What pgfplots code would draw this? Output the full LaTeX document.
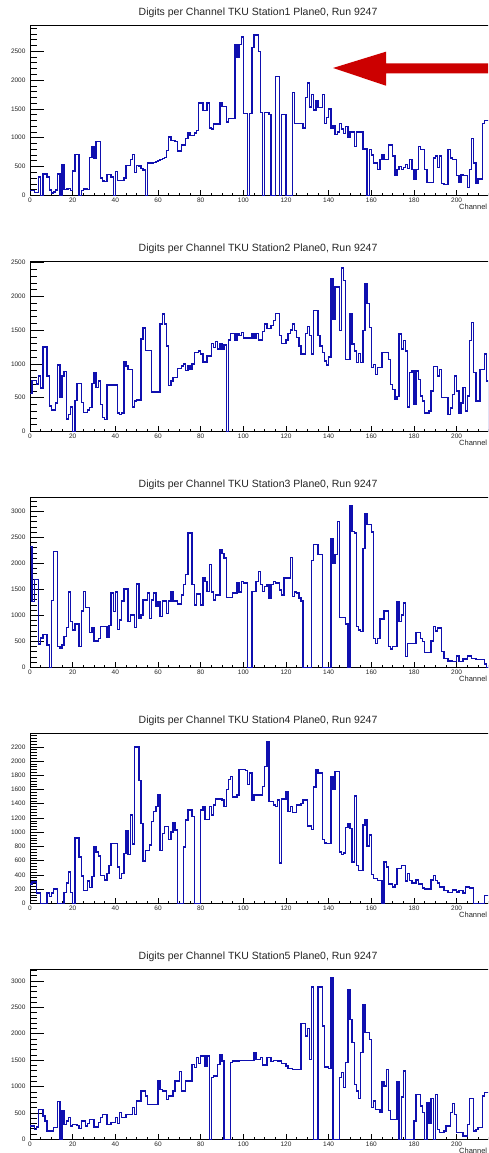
\documentclass[border=0pt]{standalone}
\usepackage{fontspec}
\setmainfont{Liberation Sans}
\usepackage{pgfplots}
\pgfplotsset{compat=1.18}
\definecolor{histblue}{RGB}{15,15,175}
\definecolor{arrowred}{RGB}{204,0,0}
\pgfplotsset{
  rootstyle/.style={
    scale only axis, width=460.8pt, height=170pt, anchor=south west,
    xmin=0, xmax=216, ymin=0,
    axis line style={line width=0.6pt, black},
    tick pos=left, tick align=inside,
    xtick={0,20,...,200}, minor xtick={0,5,...,215},
    every tick/.style={black, line width=0.5pt},
    y tick style={/pgfplots/major tick length=14pt,/pgfplots/minor tick length=7pt},
    x tick style={/pgfplots/major tick length=5pt,/pgfplots/minor tick length=2.5pt},
    scaled ticks=false,
    /pgf/number format/1000 sep={},
    /pgf/number format/assume math mode=true,
    ticklabel style={font=\fontsize{6.5}{7}\selectfont, text=black!85},
    yticklabel style={xshift=-1pt},
    xticklabel style={yshift=1pt},
    title style={at={(0.495,1)}, anchor=center, yshift=6.5pt, font=\fontsize{10.5}{12}\selectfont, text=black!85},
    xlabel={Channel},
    xlabel style={at={(1,0)}, anchor=east, inner sep=0pt, xshift=-3.5pt, yshift=-11.7pt, font=\fontsize{7.5}{8}\selectfont, text=black!85},
  },
  hist/.style={const plot mark left, draw=histblue, color=histblue, line width=1.4pt, no marks},
}
\begin{document}
\begin{tikzpicture}
\path[use as bounding box] (0,0) rectangle (488pt,1153pt);
\clip (0,0) rectangle (488pt,1153pt);
\fill[white] (0,0) rectangle (488pt,1153pt);

% Panel 1
\begin{axis}[rootstyle, at={(30pt,957.7pt)}, ymax=2950,
  ytick={0,500,...,2500}, minor ytick={0,100,...,2900},
  title={Digits per Channel TKU Station1 Plane0, Run 9247}]
\addplot[hist] coordinates {(0,80)(2,50)(4,320)(5,0)(6,370)(8,320)(9,90)(10,40)(11,60)(12,90)(13,370)(14,0)(15,530)(16,100)(17,110)(18,120)(19,80)(20,420)(21,710)(23,0)(24,80)(25,110)(27,100)(28,660)(29,850)(30,650)(31,930)(33,300)(34,250)(35,240)(36,360)(38,320)(39,0)(40,410)(41,260)(44,300)(45,520)(47,620)(48,710)(49,400)(50,520)(51,510)(52,470)(53,440)(54,0)(55,560)(58,570)(59,590)(60,600)(61,620)(62,640)(63,660)(64,780)(65,1010)(66,950)(68,930)(69,770)(71,870)(73,990)(74,1080)(75,1040)(77,1080)(78,1120)(79,1600)(81,1470)(83,1600)(84,1170)(85,1150)(86,1240)(89,1600)(90,1540)(92,1270)(93,1330)(96,2620)(97,2400)(98,2620)(99,2750)(100,1420)(102,0)(103,1420)(104,2560)(105,2780)(107,2500)(108,1440)(109,0)(110,1440)(112,1400)(113,0)(115,2060)(117,0)(118,1400)(120,0)(123,1780)(124,1250)(128,1170)(129,1700)(130,1950)(131,1530)(132,1750)(133,1480)(134,1640)(135,1520)(137,1750)(138,1250)(139,1350)(140,1500)(141,1160)(142,1200)(143,1050)(144,1100)(145,1250)(146,1150)(147,1070)(148,1190)(149,1000)(150,1100)(152,850)(153,1100)(156,800)(158,0)(159,790)(160,700)(161,560)(163,450)(164,620)(165,700)(166,620)(168,870)(170,680)(171,340)(172,450)(173,500)(174,450)(175,480)(176,530)(177,460)(178,620)(179,450)(180,280)(181,450)(182,850)(183,790)(185,450)(186,220)(189,650)(190,680)(191,480)(192,680)(193,200)(194,190)(196,790)(197,650)(198,620)(200,340)(201,220)(202,350)(203,340)(205,140)(206,450)(207,990)(208,560)(209,200)(210,280)(212,1250)(213,1300)(216,1300)};
\end{axis}

% Panel 2
\begin{axis}[rootstyle, at={(30pt,721.7pt)}, ymax=2520,
  ytick={0,500,...,2500}, minor ytick={0,100,...,2500},
  title={Digits per Channel TKU Station2 Plane0, Run 9247}]
\addplot[hist] coordinates {(0,560)(1,750)(3,700)(4,820)(5,640)(6,1250)(8,820)(9,375)(10,315)(12,420)(13,980)(14,510)(15,820)(16,890)(17,180)(18,250)(19,360)(20,0)(21,460)(22,710)(24,430)(25,275)(27,313)(28,350)(29,710)(30,870)(31,646)(32,745)(33,400)(34,200)(35,175)(36,686)(41,273)(42,250)(43,273)(44,1030)(45,970)(46,920)(48,358)(49,447)(50,462)(52,1367)(53,1530)(54,1200)(57,580)(61,1590)(62,1740)(63,1590)(64,1267)(65,680)(66,745)(67,795)(69,930)(71,970)(72,1000)(73,905)(74,970)(75,920)(76,1000)(77,1168)(79,1190)(80,1143)(81,1030)(83,1118)(85,1300)(86,1242)(87,1327)(88,1218)(89,1292)(90,1218)(91,1277)(92,0)(93,1352)(94,1450)(96,1352)(97,1450)(98,1416)(99,1466)(100,1382)(104,1450)(105,1376)(106,1450)(107,1352)(109,1476)(110,1590)(111,1526)(113,1566)(114,1640)(115,1750)(117,1416)(118,1300)(120,1352)(121,1451)(122,1500)(123,1590)(124,1490)(125,1392)(126,1267)(127,1143)(129,1450)(130,1550)(131,1416)(132,1143)(133,1790)(135,1416)(136,1267)(137,1168)(138,1043)(139,980)(140,1103)(141,2261)(142,1665)(143,2137)(145,1491)(146,2420)(147,2236)(148,1068)(150,1740)(151,1292)(152,1193)(153,1019)(154,1153)(155,1019)(156,1491)(157,2187)(158,1898)(159,1540)(160,944)(161,994)(162,845)(163,944)(165,1168)(168,1068)(169,696)(170,621)(171,472)(172,520)(173,1441)(174,1218)(175,1342)(176,1193)(177,358)(178,870)(179,895)(180,398)(181,895)(182,770)(183,522)(184,447)(185,273)(187,298)(188,596)(189,960)(191,820)(192,920)(193,497)(196,248)(197,348)(198,547)(199,820)(200,596)(201,273)(202,422)(203,646)(204,298)(205,522)(206,1342)(207,1615)(208,870)(209,450)(211,920)(213,1143)(214,745)(215,0)(216,0)};
\end{axis}

% Panel 3
\begin{axis}[rootstyle, at={(30pt,485.7pt)}, ymax=3270,
  ytick={0,500,...,3000}, minor ytick={0,100,...,3200},
  title={Digits per Channel TKU Station3 Plane0, Run 9247}]
\addplot[hist] coordinates {(0,2325)(1,1265)(2,1690)(4,450)(5,560)(6,636)(8,430)(9,0)(10,1285)(11,2229)(13,398)(14,366)(15,430)(16,591)(17,764)(18,1450)(19,880)(20,720)(21,830)(23,398)(24,1085)(25,1458)(26,1150)(28,675)(29,752)(30,508)(32,559)(33,784)(36,572)(37,800)(38,1426)(39,1073)(40,1445)(41,732)(42,912)(43,1278)(44,1503)(46,880)(47,1008)(49,764)(50,1600)(51,944)(52,1008)(53,1298)(55,1426)(56,944)(57,1298)(58,1426)(59,1169)(60,1265)(61,976)(62,1278)(64,1040)(65,1278)(66,1458)(67,1278)(69,1214)(71,1394)(72,1587)(73,1780)(74,2582)(76,1587)(77,1200)(78,1407)(80,1200)(81,1728)(82,1650)(83,1458)(84,1972)(85,1445)(86,1298)(87,1394)(89,2261)(90,2187)(91,2100)(92,1343)(95,1426)(97,1619)(98,1445)(99,1650)(100,1619)(102,0)(104,1458)(106,1650)(107,1844)(108,1587)(109,1458)(110,1554)(111,1587)(112,1330)(113,1587)(114,1650)(115,1619)(117,1490)(118,1394)(119,1715)(122,2113)(123,1362)(124,1445)(125,1426)(126,1330)(127,1278)(128,0)(132,2049)(133,2358)(135,2165)(137,0)(141,2473)(142,2004)(143,2165)(144,2807)(145,957)(148,829)(149,0)(150,3109)(151,2614)(152,2582)(153,784)(154,720)(155,687)(156,2280)(157,2949)(158,2743)(160,2602)(161,559)(162,463)(163,559)(164,931)(166,1085)(168,398)(169,353)(170,398)(172,1265)(173,880)(174,1008)(175,1233)(176,205)(177,463)(181,675)(183,559)(184,495)(185,289)(188,508)(189,784)(190,700)(191,752)(193,302)(194,173)(196,122)(198,109)(200,218)(201,109)(203,160)(205,218)(207,173)(209,154)(213,64)(214,0)(216,0)};
\end{axis}

% Panel 4
\begin{axis}[rootstyle, at={(30pt,249.7pt)}, ymax=2390,
  ytick={0,200,...,2200}, minor ytick={0,40,...,2380},
  title={Digits per Channel TKU Station4 Plane0, Run 9247}]
\addplot[hist] coordinates {(0,274)(1,297)(3,142)(5,0)(8,142)(9,94)(10,142)(11,203)(13,0)(16,156)(17,283)(18,439)(19,156)(20,0)(21,920)(23,651)(24,382)(25,179)(27,311)(28,226)(29,378)(30,793)(31,722)(32,665)(33,392)(35,330)(36,415)(37,533)(38,840)(41,510)(42,345)(43,415)(44,700)(45,1015)(46,690)(47,1242)(48,831)(49,2200)(51,1728)(52,1124)(53,595)(54,746)(56,817)(57,1147)(58,1289)(59,1360)(60,1525)(61,746)(62,982)(63,1076)(65,897)(66,1005)(67,1133)(68,1029)(69,0)(72,793)(73,1170)(74,1312)(76,1218)(77,0)(80,1312)(81,1360)(82,1180)(84,1360)(85,1242)(86,1383)(87,1464)(90,1454)(91,1360)(92,1596)(93,1737)(94,1785)(95,1492)(97,1525)(98,1879)(101,1870)(102,1667)(103,1832)(104,1445)(105,1525)(109,1643)(110,1926)(111,2271)(112,1430)(114,1383)(115,1360)(116,1454)(117,567)(118,1464)(120,1572)(121,1289)(122,1360)(123,1275)(125,1383)(127,1407)(128,1454)(130,1086)(132,1039)(133,1633)(134,1879)(135,1832)(137,897)(138,850)(139,840)(141,1785)(142,1596)(143,1855)(145,722)(146,690)(147,708)(148,1067)(149,1114)(150,1053)(151,580)(152,1510)(153,533)(154,463)(156,1100)(157,1170)(158,803)(159,958)(160,406)(161,345)(163,321)(165,0)(166,580)(167,510)(168,274)(170,227)(171,264)(172,486)(174,533)(176,311)(177,415)(178,321)(179,283)(181,330)(182,274)(184,217)(185,203)(188,330)(189,392)(190,321)(191,283)(192,227)(194,179)(196,156)(198,189)(200,160)(201,179)(203,142)(204,227)(206,217)(208,0)(213,109)(216,109)};
\end{axis}

% Panel 5
\begin{axis}[rootstyle, at={(30pt,13.7pt)}, ymax=3220,
  ytick={0,500,...,3000}, minor ytick={0,100,...,3200},
  title={Digits per Channel TKU Station5 Plane0, Run 9247}]
\addplot[hist] coordinates {(0,253)(2,190)(3,234)(4,568)(6,442)(7,347)(8,158)(11,221)(13,714)(14,0)(15,537)(16,284)(17,347)(18,410)(19,253)(20,284)(22,265)(23,200)(24,347)(26,253)(27,297)(28,379)(30,234)(32,316)(33,410)(34,474)(36,284)(38,316)(40,410)(41,297)(42,505)(43,410)(45,474)(48,600)(49,474)(50,726)(52,916)(54,821)(55,663)(60,1105)(61,947)(62,916)(64,758)(65,821)(67,916)(68,1105)(70,1282)(71,916)(73,1105)(76,1421)(77,1358)(78,1547)(79,1434)(80,1579)(82,1389)(83,1579)(84,0)(85,1168)(86,1200)(88,1421)(89,1610)(90,1484)(91,0)(94,1453)(95,1484)(98,1497)(105,1642)(106,1516)(108,1547)(109,1408)(111,1547)(113,1472)(114,1497)(116,1484)(118,1434)(120,1389)(121,1345)(123,1326)(127,2192)(129,1958)(130,2103)(131,1516)(132,2886)(133,0)(135,2886)(137,2147)(138,1370)(140,1345)(141,3063)(142,0)(145,1168)(146,1263)(147,979)(148,1453)(149,2842)(150,2274)(151,1832)(152,1042)(153,916)(154,777)(155,1642)(156,2558)(157,2021)(159,1895)(160,600)(161,726)(162,568)(164,505)(165,1093)(166,1011)(167,1326)(168,550)(169,379)(172,1093)(173,0)(174,802)(175,1295)(176,0)(180,347)(181,853)(183,632)(184,505)(185,0)(186,695)(187,297)(188,777)(189,0)(190,853)(191,190)(192,126)(194,158)(195,253)(197,505)(198,676)(199,474)(200,126)(203,63)(205,284)(206,777)(208,158)(209,190)(210,221)(212,821)(213,884)(216,884)};
\end{axis}

% red arrow annotation (panel 1)
\fill[arrowred] (333pt,1085pt) -- (386pt,1101.3pt) -- (386pt,1089.7pt) -- (495pt,1089.7pt) -- (495pt,1079.7pt) -- (386pt,1079.7pt) -- (386pt,1067.3pt) -- cycle;
\end{tikzpicture}
\end{document}
